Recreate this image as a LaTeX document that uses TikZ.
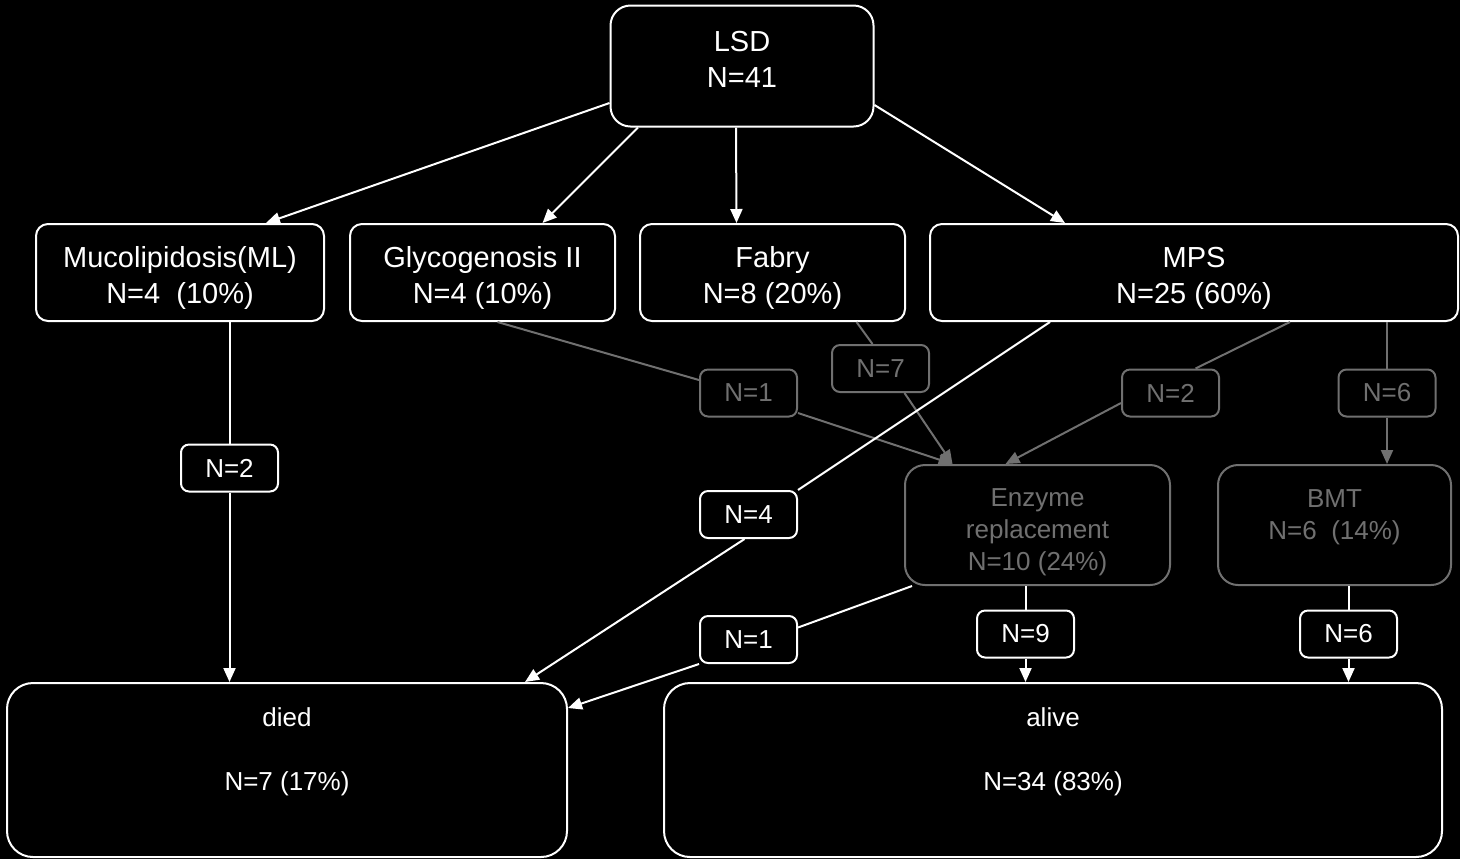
\documentclass[tikz,border=0pt]{standalone}
\usepackage{fontspec}
\setmainfont{Liberation Sans}
\usetikzlibrary{arrows.meta}
\definecolor{dimgray}{RGB}{112,112,112}
\newcommand\dropby[1]{\mbox{}\\[#1]}

\begin{document}
\begin{tikzpicture}[x=0.5pt,y=-0.5pt,
  box/.style={draw=white,text=white,line width=1pt,rounded corners=6pt,align=center,inner sep=0pt},
  topbox/.style={box,minimum height=48.5pt,font=\fontsize{14.5}{18}\selectfont},
  lowbox/.style={box,minimum height=60pt,rounded corners=10pt,font=\fontsize{13}{16}\selectfont},
  endbox/.style={box,minimum height=87pt,rounded corners=13pt,font=\fontsize{13}{16}\selectfont},
  tag/.style={box,minimum width=48.5pt,minimum height=23.5pt,rounded corners=4pt,fill=black,font=\fontsize{13}{16}\selectfont},
  faint/.style={draw=dimgray,text=dimgray},
  flow/.style={white,line width=1pt},
  faintflow/.style={dimgray,line width=1pt},
  >={Triangle[length=7pt,width=6pt]}]

% background and page size
\fill[black] (0,0) rectangle (1460,859);
\useasboundingbox (0,0) rectangle (1460,859);

% Draw the top node
\node[topbox,minimum width=131.5pt,minimum height=60.5pt,rounded corners=10pt] (lsd) at (742,66) {LSD\\N=41\\[-11pt]};

% Draw the disease groups
\node[topbox,minimum width=144pt] (ml) at (180,272.5) {\dropby{-2pt}Mucolipidosis(ML)\\N=4~~(10\%)};
\node[topbox,minimum width=132.5pt] (gly) at (482.5,272.5) {\dropby{-2pt}Glycogenosis II\\N=4 (10\%)};
\node[topbox,minimum width=132.5pt] (fab) at (772.5,272.5) {\dropby{-2pt}Fabry\\N=8 (20\%)};
\node[topbox,minimum width=264pt] (mps) at (1194,272.5) {\dropby{-2pt}MPS\\N=25 (60\%)};

% Draw the treatments
\node[lowbox,faint,minimum width=132.5pt] (enz) at (1037.5,525) {\dropby{0pt}Enzyme\\replacement\\N=10 (24\%)};
\node[lowbox,faint,minimum width=116.5pt] (bmt) at (1334.5,525) {\dropby{3pt}BMT\\N=6~~(14\%)\\\strut};

% Draw the outcomes
\node[endbox,minimum width=280pt] (died) at (287,770) {died\\\strut\\N=7 (17\%)\\\strut};
\node[endbox,minimum width=389pt] (alive) at (1053,770) {alive\\\strut\\N=34 (83\%)\\\strut};

% Draw the count tags
\node[tag] (nml) at (229.5,468) {N=2};
\node[tag,faint] (ngly) at (748.5,393) {N=1};
\node[tag,faint] (nfab) at (880.5,368.5) {N=7};
\node[tag,faint] (nmpsenz) at (1170.5,393) {N=2};
\node[tag,faint] (nmpsbmt) at (1387,393) {N=6};
\node[tag] (nmpsdied) at (748.5,514.5) {N=4};
\node[tag] (nenzdied) at (748.5,639.5) {N=1};
\node[tag] (nenzalive) at (1025.5,634) {N=9};
\node[tag] (nbmtalive) at (1348.5,634) {N=6};

% Draw the splits of LSD
\draw[flow,->] ([yshift=-18.5pt]lsd.west) -- ([xshift=43pt]ml.north);
\draw[flow,->] ([xshift=-52pt]lsd.south) -- ([xshift=30pt]gly.north);
\draw[flow,->] ([xshift=-3pt]lsd.south) -- ([xshift=-18pt]fab.north);
\draw[flow,->] ([yshift=-19.5pt]lsd.east) -- ([xshift=-64.5pt]mps.north);

% Draw the treatment flows
\draw[faintflow] ([xshift=7.5pt]gly.south) -- ([yshift=6.5pt]ngly.west);
\draw[faintflow,->] ([yshift=-10pt]ngly.east) -- ([xshift=-42.5pt]enz.north);
\draw[faintflow] ([xshift=42pt]fab.south) -- ([xshift=-4pt]nfab.north);
\draw[faintflow,->] ([xshift=12pt]nfab.south) -- ([xshift=-42.5pt]enz.north);
\draw[faintflow] ([xshift=48pt]mps.south) -- ([xshift=12.5pt]nmpsenz.north);
\draw[faintflow,->] ([yshift=-5pt]nmpsenz.west) -- ([xshift=-16pt]enz.north);
\draw[faintflow] (mps.south -| nmpsbmt) -- (nmpsbmt.north);
\draw[faintflow,->] (nmpsbmt.south) -- (bmt.north -| nmpsbmt);

% Draw the outcome flows
\draw[flow] (ml.south -| nml) -- (nml.north);
\draw[flow,->] (nml.south) -- (died.north -| nml);
\draw[flow] ([xshift=-72pt]mps.south) -- (nmpsdied.north east);
\draw[flow,->] ([xshift=-2pt]nmpsdied.south) -- ([xshift=119pt]died.north);
\draw[flow] ([xshift=4pt]enz.south west) -- ([yshift=6pt]nenzdied.east);
\draw[flow,->] (nenzdied.south west) -- ([yshift=31pt]died.east);
\draw[flow] (enz.south -| nenzalive) -- (nenzalive.north);
\draw[flow,->] (nenzalive.south) -- (alive.north -| nenzalive);
\draw[flow] (bmt.south -| nbmtalive) -- (nbmtalive.north);
\draw[flow,->] (nbmtalive.south) -- (alive.north -| nbmtalive);

\end{tikzpicture}
\end{document}
